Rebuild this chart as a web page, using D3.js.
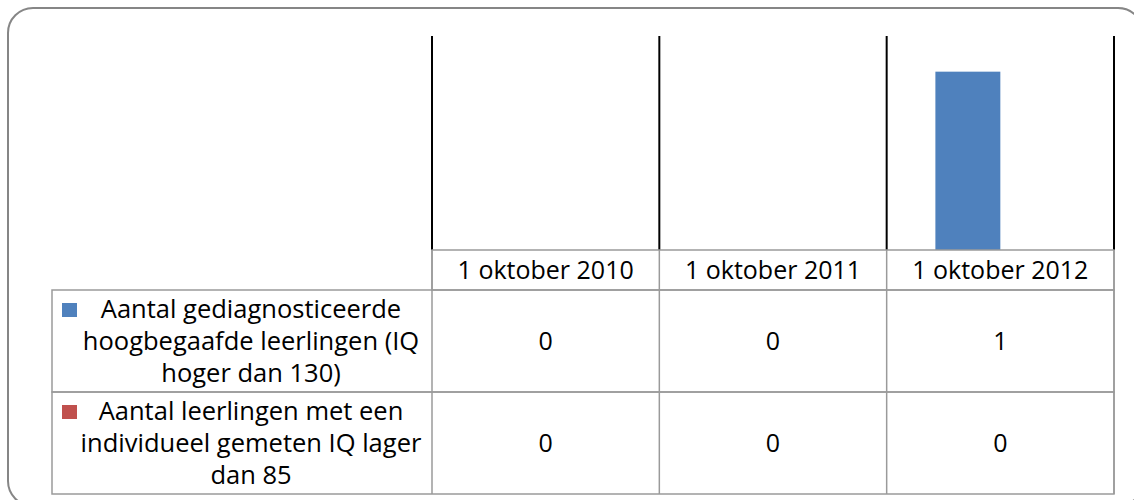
<!DOCTYPE html>
<html>
<head>
<meta charset="utf-8">
<script src="https://cdn.jsdelivr.net/npm/d3@7"></script>
<style>
  body { margin: 0; background: #fff; }
  svg { display: block; font-family: "Open Sans", sans-serif; }
</style>
</head>
<body>
<svg id="chart" width="1134" height="500"></svg>
<script>
// data
const categories = ["1 oktober 2010", "1 oktober 2011", "1 oktober 2012"];
const seriesNames = [
  ["Aantal gediagnosticeerde", "hoogbegaafde leerlingen (IQ", "hoger dan 130)"],
  ["Aantal leerlingen met een", "individueel gemeten IQ lager", "dan 85"]
];
const seriesColors = ["#4f81bd", "#c0504d"];
const hoogbegaafd = [0, 0, 1];
const iqLager = [0, 0, 0];
const series = [hoogbegaafd, iqLager];

let svg = d3.select("#chart");

// outer rounded frame (runs off the right and bottom edges)
svg.append("rect")
  .attr("x", 8).attr("y", 8)
  .attr("width", 1135).attr("height", 498)
  .attr("rx", 25).attr("ry", 25)
  .attr("fill", "none")
  .attr("stroke", "#868686")
  .attr("stroke-width", 2);

// plot area
let plotLeft = 432, plotRight = 1114, plotTop = 36, plotBottom = 250;

let x = d3.scaleBand()
  .domain(categories)
  .range([plotLeft, plotRight])
  .padding(0);

let xInner = d3.scaleBand()
  .domain(d3.range(series.length))
  .range([0, x.bandwidth()])
  .paddingInner(0)
  .paddingOuter(0.75);

let y = d3.scaleLinear()
  .domain([0, 1.2])
  .range([plotBottom, plotTop]);

// bars
series.forEach((vals, s) => {
  svg.append("g")
    .selectAll("rect")
    .data(vals)
    .join("rect")
    .attr("x", (d, i) => x(categories[i]) + xInner(s))
    .attr("y", d => y(d))
    .attr("width", xInner.bandwidth())
    .attr("height", d => y(0) - y(d))
    .attr("fill", seriesColors[s]);
});

// vertical separators in the plot (category boundaries)
let bounds = categories.map(c => x(c)).concat([plotRight]);
svg.append("g")
  .selectAll("line")
  .data(bounds)
  .join("line")
  .attr("x1", d => d).attr("x2", d => d)
  .attr("y1", plotTop).attr("y2", plotBottom)
  .attr("stroke", "#000")
  .attr("stroke-width", 2);

// data table
let tableLeft = 52, headerTop = plotBottom, headerBottom = 290;
let rowH = 102;
let grid = svg.append("g")
  .attr("stroke", "#9a9a9a")
  .attr("stroke-width", 1.5)
  .attr("fill", "none");

// header row
grid.append("rect")
  .attr("x", plotLeft).attr("y", headerTop)
  .attr("width", plotRight - plotLeft).attr("height", headerBottom - headerTop);
// body rows
series.forEach((vals, s) => {
  grid.append("rect")
    .attr("x", tableLeft).attr("y", headerBottom + s * rowH)
    .attr("width", plotRight - tableLeft).attr("height", rowH);
});
// column lines
grid.selectAll("line.col")
  .data(bounds)
  .join("line")
  .attr("class", "col")
  .attr("x1", d => d).attr("x2", d => d)
  .attr("y1", headerTop).attr("y2", headerBottom + series.length * rowH);

// header labels
svg.append("g")
  .selectAll("text")
  .data(categories)
  .join("text")
  .attr("x", d => x(d) + x.bandwidth() / 2)
  .attr("y", 279)
  .attr("text-anchor", "middle")
  .attr("font-size", 25)
  .attr("fill", "#000")
  .text(d => d);

// values
series.forEach((vals, s) => {
  svg.append("g")
    .selectAll("text")
    .data(vals)
    .join("text")
    .attr("x", (d, i) => x(categories[i]) + x.bandwidth() / 2)
    .attr("y", headerBottom + s * rowH + 60)
    .attr("text-anchor", "middle")
    .attr("font-size", 25)
    .attr("fill", "#000")
    .text(d => d);
});

// legend cells
seriesNames.forEach((lines, s) => {
  let top = headerBottom + s * rowH;
  svg.append("rect")
    .attr("x", 62).attr("y", top + 13)
    .attr("width", 15).attr("height", 14)
    .attr("fill", seriesColors[s]);
  let t = svg.append("text")
    .attr("font-size", 25.5)
    .attr("fill", "#000")
    .attr("text-anchor", "middle");
  lines.forEach((ln, i) => {
    t.append("tspan")
      .attr("x", 251)
      .attr("y", top + 28 + i * 32)
      .text(ln);
  });
});
</script>
</body>
</html>
